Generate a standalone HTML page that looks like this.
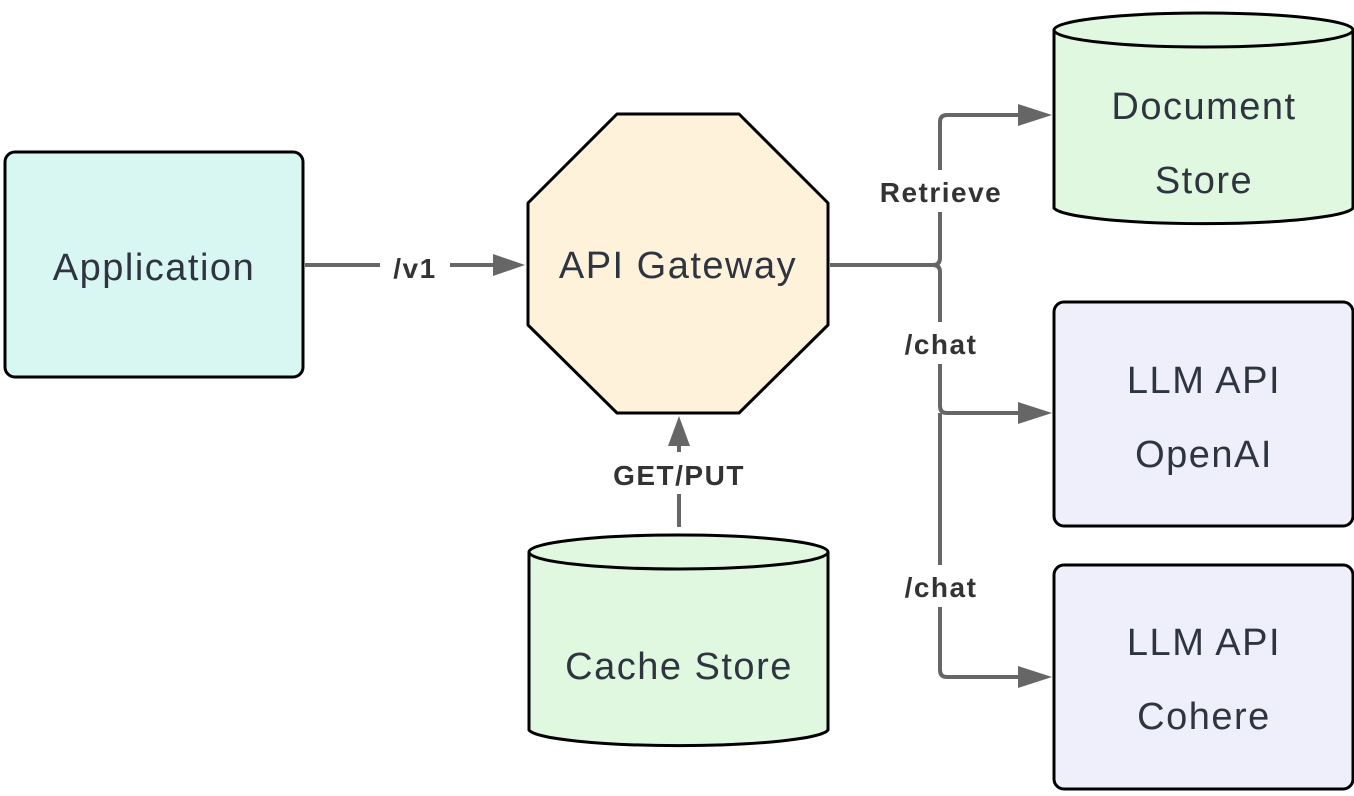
<!DOCTYPE html>
<html><head><style>
html,body{margin:0;padding:0;background:#fff;}
svg text{font-family:"Liberation Sans","DejaVu Sans",sans-serif;}
.n{font-size:38px;fill:#2f3540;text-anchor:middle;letter-spacing:1.5px;}
.l{font-size:28px;font-weight:bold;fill:#333;text-anchor:middle;letter-spacing:1.5px;}
</style></head><body>
<svg width="1354" height="791" viewBox="0 0 1354 791" xmlns="http://www.w3.org/2000/svg">
<g stroke="#666" stroke-width="4" fill="none">
<line x1="305" y1="265" x2="495" y2="265"/>
<path d="M830 265 H933 Q940 265 940 258 V122 Q940 115 947 115 H1020"/>
<path d="M940 272 V406 Q940 413 947 413 H1020"/>
<path d="M940 413 V670 Q940 677 947 677 H1020"/>
<path d="M933 265 Q940 265 940 272"/>
<line x1="679" y1="527" x2="679" y2="443"/>
</g>
<g fill="#666">
<polygon points="525,265 493,254 493,276"/>
<polygon points="1052,115 1018,104 1018,126"/>
<polygon points="1052,413 1018,402 1018,424"/>
<polygon points="1052,677 1018,666 1018,688"/>
<polygon points="679,416 668,446 690,446"/>
</g>
<g fill="#fff" stroke="none">
<rect x="380" y="250" width="70" height="34"/>
<rect x="860" y="170" width="160" height="42"/>
<rect x="890" y="322" width="100" height="42"/>
<rect x="890" y="565" width="100" height="42"/>
<rect x="600" y="452" width="160" height="42"/>
</g>
<rect x="5" y="152" width="298" height="225" rx="10" fill="#d8f7f2" stroke="#000" stroke-width="3"/>
<text class="n" x="154" y="280">Application</text>
<polygon points="617,114 739,114 828,203 828,325 739,413 617,413 528,325 528,203" fill="#fff2db" stroke="#000" stroke-width="3" stroke-linejoin="round"/>
<text class="n" x="678" y="278">API Gateway</text>
<path d="M1054 30 V208 A150 17 0 0 0 1353 208 V30" fill="#e0f8e0" stroke="#000" stroke-width="3"/>
<ellipse cx="1203.5" cy="30" rx="149.5" ry="17" fill="#e0f8e0" stroke="#000" stroke-width="3"/>
<text class="n" x="1204" y="119">Document</text>
<text class="n" x="1204" y="193">Store</text>
<path d="M529 552 V730 A150 17 0 0 0 828 730 V552" fill="#e0f8e0" stroke="#000" stroke-width="3"/>
<ellipse cx="678.5" cy="552" rx="149.5" ry="17" fill="#e0f8e0" stroke="#000" stroke-width="3"/>
<text class="n" x="679" y="679">Cache Store</text>
<rect x="1054" y="302" width="299" height="224" rx="10" fill="#efeffc" stroke="#000" stroke-width="3"/>
<text class="n" x="1204" y="393">LLM API</text>
<text class="n" x="1204" y="467">OpenAI</text>
<rect x="1054" y="565" width="299" height="224" rx="10" fill="#efeffc" stroke="#000" stroke-width="3"/>
<text class="n" x="1204" y="655">LLM API</text>
<text class="n" x="1204" y="729">Cohere</text>
<text class="l" x="415" y="278">/v1</text>
<text class="l" x="941" y="202">Retrieve</text>
<text class="l" x="941" y="354">/chat</text>
<text class="l" x="941" y="597">/chat</text>
<text class="l" x="679" y="485">GET/PUT</text>
</svg>
</body></html>
